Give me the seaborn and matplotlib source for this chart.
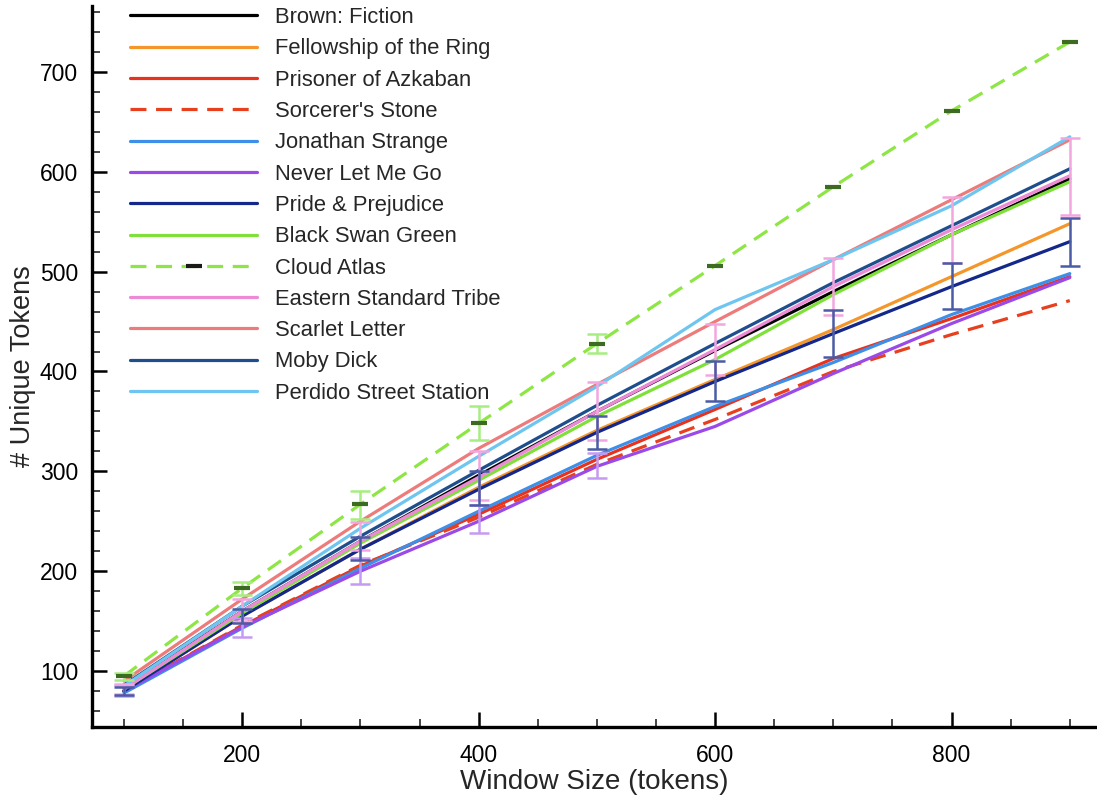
import matplotlib
matplotlib.use("Agg")
import matplotlib.pyplot as plt
import seaborn as sns
import pandas as pd
from matplotlib.lines import Line2D
from matplotlib.ticker import MultipleLocator

# ---------------- data ----------------
window = [100, 200, 300, 400, 500, 600, 700, 800, 900]

books = ["Brown: Fiction", "Fellowship of the Ring", "Prisoner of Azkaban",
         "Sorcerer's Stone", "Jonathan Strange", "Never Let Me Go",
         "Pride & Prejudice", "Black Swan Green", "Cloud Atlas",
         "Eastern Standard Tribe", "Scarlet Letter", "Moby Dick",
         "Perdido Street Station"]

brown     = [83, 160, 230, 296, 360, 421, 480, 537, 593]
fellow    = [80, 155, 222, 284, 341, 392, 442, 495, 548]
prisoner  = [80, 145, 205, 257, 312, 362, 413, 453, 495]
sorcerer  = [80, 146, 206, 254, 307, 352, 400, 437, 471]
jonathan  = [78, 143, 203, 260, 316, 365, 409, 457, 498]
never     = [80, 144, 200, 250, 305, 345, 398, 448, 494]
pride     = [80, 155, 222, 282, 339, 390, 438, 485, 530]
blackswan = [82, 158, 228, 291, 355, 412, 477, 537, 590]
cloud     = [95, 183, 267, 348, 428, 506, 585, 661, 730]
eastern   = [82, 160, 230, 294, 360, 422, 485, 542, 596]
scarlet   = [90, 172, 250, 323, 387, 450, 512, 572, 632]
moby      = [86, 165, 235, 301, 366, 428, 489, 546, 603]
perdido   = [85, 165, 243, 315, 385, 462, 512, 566, 635]

values = [brown, fellow, prisoner, sorcerer, jonathan, never, pride,
          blackswan, cloud, eastern, scarlet, moby, perdido]

colors = ["#000000", "#f5962a", "#e8321e", "#e8401e", "#3d8fe8", "#9a4ae8",
          "#13288a", "#7fe03a", "#8ee645", "#ec8ad6", "#ee7b7b", "#1f4e8c",
          "#6ec6f0"]
dashed = ["Sorcerer's Stone", "Cloud Atlas"]

# error bar bounds (lower, upper)
eastern_lo = [77, 150, 221, 271, 331, 396, 457, 509, 557]
eastern_hi = [87, 172, 249, 320, 389, 448, 514, 575, 634]
pride_lo   = [76, 148, 211, 266, 322, 370, 415, 463, 506]
pride_hi   = [84, 162, 234, 300, 355, 411, 462, 509, 554]
never_lo   = [75, 134, 187, 238, 293]
never_hi   = [86, 153, 213, 266, 318]
cloud_lo   = [91, 176, 252, 331, 419]
cloud_hi   = [98, 189, 280, 365, 438]

# ---------------- plot ----------------
sns.set_style("ticks")
plt.rcParams["font.family"] = ["Liberation Sans", "DejaVu Sans"]

fig = plt.figure(figsize=(10.97, 7.99), dpi=100)
ax = fig.add_axes([92 / 1097, 72 / 799, 1 - 92 / 1097, (727 - 6) / 799])

df = pd.DataFrame({
    "Window": window * len(books),
    "Tokens": [v for vals in values for v in vals],
    "Book": [b for b in books for _ in window],
})
palette = dict(zip(books, colors))
dashes = {b: ((5, 3) if b in dashed else "") for b in books}

sns.lineplot(data=df, x="Window", y="Tokens", hue="Book", style="Book",
             hue_order=books, style_order=books, palette=palette,
             dashes=dashes, linewidth=2.3, legend=False, errorbar=None,
             ax=ax)

def eb(x, mean, lo, hi, color):
    m = mean[:len(lo)]
    ax.errorbar(x[:len(lo)], m,
                yerr=[[a - b for a, b in zip(m, lo)], [b - a for a, b in zip(m, hi)]],
                fmt="none", ecolor=color, elinewidth=1.8, capsize=7,
                capthick=1.8, zorder=3)

eb(window, never, never_lo, never_hi, "#c59af2")
eb(window, eastern, eastern_lo, eastern_hi, "#f2a6e0")
eb(window, pride, pride_lo, pride_hi, "#4a5ca6")
eb(window, cloud, cloud_lo, cloud_hi, "#a6ee80")
ax.plot(window, cloud, linestyle="none", marker="_", markersize=12,
        markeredgewidth=3, color="#3d6b22", zorder=4)

ax.set_xlim(73, 923)
ax.set_ylim(44, 766)
ax.set_xticks([200, 400, 600, 800])
ax.xaxis.set_minor_locator(MultipleLocator(50))
ax.set_yticks([100, 200, 300, 400, 500, 600, 700])
ax.yaxis.set_minor_locator(MultipleLocator(20))
ax.tick_params(which="major", direction="in", length=11, width=1.8,
               labelsize=16.5, colors="black")
ax.tick_params(axis="x", which="major", pad=12)
ax.tick_params(axis="y", which="major", pad=10)
ax.tick_params(which="minor", direction="in", length=6, width=1.2)
for s in ["top", "right"]:
    ax.spines[s].set_visible(False)
for s in ["left", "bottom"]:
    ax.spines[s].set_linewidth(2.4)
    ax.spines[s].set_color("black")

ax.set_xlabel("Window Size (tokens)", fontsize=20, labelpad=2)
ax.set_ylabel("# Unique Tokens", fontsize=19.5, labelpad=3)

handles = []
for b, c in zip(books, colors):
    if b == "Cloud Atlas":
        h = Line2D([], [], color=c, lw=2.3, ls=(0, (5, 3)), marker="_",
                   markersize=12, markeredgewidth=3, markeredgecolor="#1a1a1a")
    elif b in dashed:
        h = Line2D([], [], color=c, lw=2.3, ls=(0, (5, 3)))
    else:
        h = Line2D([], [], color=c, lw=2.3)
    handles.append(h)

ax.legend(handles, books, loc="upper left",
          bbox_to_anchor=(130 / 1097, 1 - 7 / 799),
          bbox_transform=fig.transFigure, frameon=False, borderpad=0,
          borderaxespad=0, fontsize=15.8, handlelength=5.8,
          handletextpad=0.8, labelspacing=0.47, numpoints=1)

fig.savefig("out.png", dpi=100)
